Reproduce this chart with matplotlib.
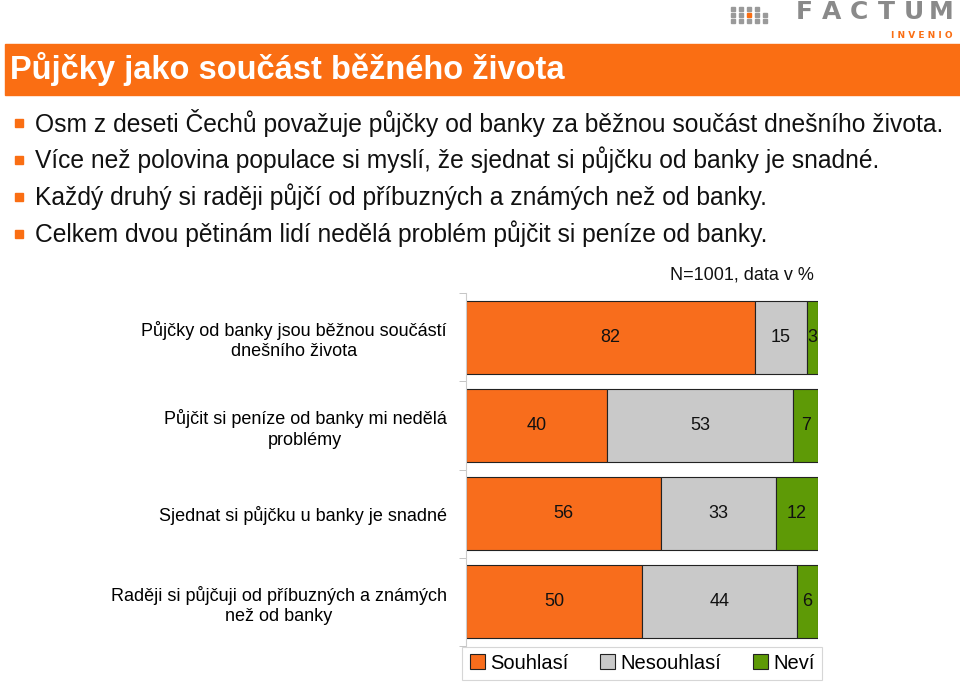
import numpy as np
import matplotlib
matplotlib.use("Agg")
import matplotlib.pyplot as plt
from matplotlib.patches import Rectangle

plt.rcParams['font.family'] = ['Liberation Sans', 'DejaVu Sans']

title = "Půjčky jako součást běžného života"
bullets = [
    "Osm z deseti Čechů považuje půjčky od banky za běžnou součást dnešního života.",
    "Více než polovina populace si myslí, že sjednat si půjčku od banky je snadné.",
    "Každý druhý si raději půjčí od příbuzných a známých než od banky.",
    "Celkem dvou pětinám lidí nedělá problém půjčit si peníze od banky.",
]
categories = [
    "Půjčky od banky jsou běžnou součástí\ndnešního života",
    "Půjčit si peníze od banky mi nedělá\nproblémy",
    "Sjednat si půjčku u banky je snadné",
    "Raději si půjčuji od příbuzných a známých\nnež od banky",
]
series_names = ["Souhlasí", "Nesouhlasí", "Neví"]
souhlasi = [82, 40, 56, 50]
nesouhlasi = [15, 53, 33, 44]
nevi = [3, 7, 12, 6]
note = "N=1001, data v %"

colors = ["#F86D1C", "#C9C9C9", "#5E9A06"]
orange = "#FA6E13"

fig = plt.figure(figsize=(9.6, 6.86), dpi=100)
W, H = 960, 686

def fx(px):
    return px / W

def fy(py):
    return 1 - py / H

# logo
for r in range(3):
    for c in range(5):
        if r == 0 and c == 4:
            continue
        col = orange if (r == 1 and c == 2) else "#9A9A9A"
        fig.patches.append(Rectangle((fx(731 + c * 8), fy(7 + r * 6) - 4 / H), 4 / W, 4 / H,
                                     transform=fig.transFigure, color=col))
for i, ch in enumerate("FACTUM"):
    fig.text(fx(804 + 27.5 * i), fy(0), ch, ha="center", va="top", fontsize=18,
             color="#8A8A8A", fontfamily="DejaVu Sans", fontweight="bold")
fig.text(fx(953), fy(35), "I N V E N I O", ha="right", va="center", fontsize=6.5,
         color=orange, fontfamily="DejaVu Sans", fontweight="bold")

# title bar
fig.patches.append(Rectangle((fx(5), fy(95)), fx(955), 51 / H,
                             transform=fig.transFigure, color=orange))
fig.text(fx(10), fy(69), title, ha="left", va="center", fontsize=23.5,
         color="white", fontweight="bold")

# bullets
for i, b in enumerate(bullets):
    y = 123 + i * 37
    fig.patches.append(Rectangle((fx(15), fy(y + 4)), 8 / W, 8 / H,
                                 transform=fig.transFigure, color=orange))
    fig.text(fx(35), fy(y), b, ha="left", va="center", fontsize=17.7, color="#111111")

# chart
ax = fig.add_axes([fx(466), fy(646), fx(818) - fx(466), (646 - 293) / H])
data = np.array([souhlasi, nesouhlasi, nevi], dtype=float)
pct = data / data.sum(axis=0) * 100
y = np.arange(len(categories))
left = np.zeros(len(categories))
for k in range(3):
    ax.barh(y, pct[k], left=left, height=0.83, color=colors[k],
            edgecolor="#222222", linewidth=0.8, label=series_names[k])
    for i in range(len(categories)):
        ax.text(left[i] + pct[k][i] / 2, y[i], f"{int(data[k][i])}",
                ha="center", va="center", fontsize=13, color="#111111")
    left += pct[k]

ax.set_xlim(0, 100)
ax.set_ylim(len(categories) - 0.5, -0.5)
ax.set_yticks(y)
ax.set_yticklabels(categories, fontsize=13, multialignment="center", linespacing=1.25)
ax.tick_params(axis="y", which="major", length=0, pad=14)
ax.set_yticks(np.arange(len(categories) + 1) - 0.5, minor=True)
ax.tick_params(axis="y", which="minor", length=5, color="#BBBBBB", direction="out")
ax.set_xticks([])
for s in ["top", "right", "bottom"]:
    ax.spines[s].set_visible(False)
ax.spines["left"].set_color("#CCCCCC")

fig.text(fx(814), fy(275), note, ha="right", va="center", fontsize=13, color="#111111")

leg = ax.legend(ncol=3, loc="upper left", bbox_to_anchor=(-0.01, -0.012, 1.02, 0.01),
                mode="expand", fontsize=14.5, frameon=True, fancybox=False,
                handlelength=0.75, handleheight=0.75, handletextpad=0.25,
                borderaxespad=0, borderpad=0.35, columnspacing=1.0)
leg.get_frame().set_edgecolor("#CCCCCC")
leg.get_frame().set_linewidth(0.8)

fig.savefig("out.png", dpi=100)
